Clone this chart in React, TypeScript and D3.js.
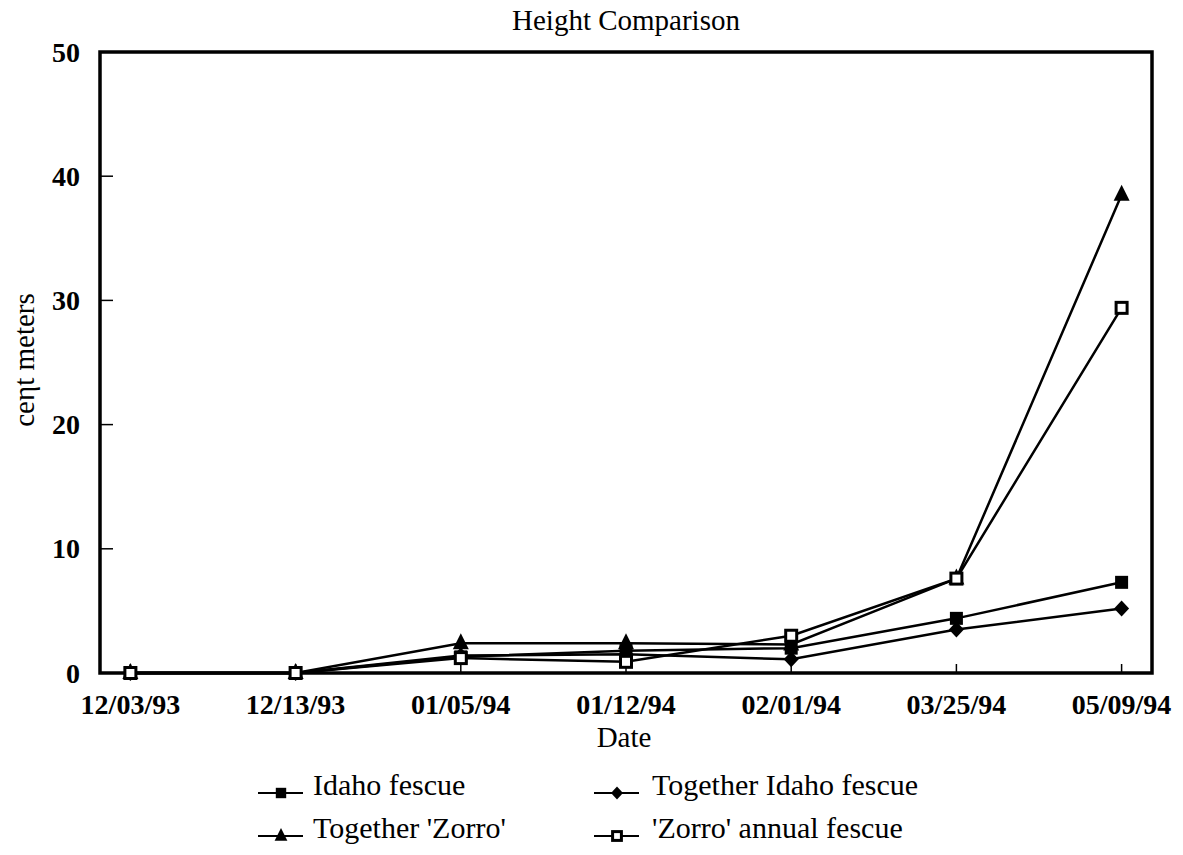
import React from "react";
import * as d3 from "d3";

const dates = ["12/03/93", "12/13/93", "01/05/94", "01/12/94", "02/01/94", "03/25/94", "05/09/94"];
const idahoFescue = [0, 0, 1.3, 1.8, 2.0, 4.4, 7.3];
const togetherIdaho = [0, 0, 1.4, 1.5, 1.1, 3.5, 5.2];
const togetherZorro = [0, 0, 2.4, 2.4, 2.3, 7.6, 38.5];
const zorroAnnual = [0, 0, 1.2, 0.9, 3.0, 7.6, 29.4];
const yTicks = [0, 10, 20, 30, 40, 50];

const seriesNames = ["Idaho fescue", "Together Idaho fescue", "Together 'Zorro'", "'Zorro' annual fescue"];
const seriesValues = [idahoFescue, togetherIdaho, togetherZorro, zorroAnnual];
const seriesMarkers = ["square", "diamond", "triangle", "openSquare"];

const W = 1183, H = 855;
const L = 100, R = 1152, T = 52, B = 673;
const FONT = "'Liberation Serif', 'Times New Roman', serif";

function Marker({ kind, x, y, s = 1 }: { kind: string; x: number; y: number; s?: number }) {
  if (kind === "square") return <rect x={x - 6.5 * s} y={y - 6.5 * s} width={13 * s} height={13 * s} fill="black" />;
  if (kind === "openSquare")
    return <rect x={x - 5.5 * s} y={y - 5.5 * s} width={11 * s} height={11 * s} fill="white" stroke="black" strokeWidth={3} />;
  if (kind === "diamond")
    return <path d={`M${x},${y - 8 * s}L${x + 7.5 * s},${y}L${x},${y + 8 * s}L${x - 7.5 * s},${y}Z`} fill="black" />;
  return <path d={`M${x},${y - 10 * s}L${x + 8 * s},${y + 6 * s}L${x - 8 * s},${y + 6 * s}Z`} fill="black" />;
}

export default function App() {
  const x = d3.scalePoint<string>().domain(dates).range([L, R]).padding(0.184);
  const y = d3.scaleLinear().domain([0, 50]).range([B, T]);
  const line = d3
    .line<number>()
    .x((_, i) => x(dates[i]) as number)
    .y((d) => y(d));

  const legendPos = [
    { lx: 281, ly: 793, tx: 313 },
    { lx: 617, ly: 793, tx: 652 },
    { lx: 281, ly: 836, tx: 313 },
    { lx: 617, ly: 836, tx: 652 },
  ];

  return (
    <svg width={W} height={H} style={{ position: "absolute", left: 0, top: 0, background: "white" }} fontFamily={FONT}>
      <rect x={0} y={0} width={W} height={H} fill="white" />
      <text x={626} y={30} textAnchor="middle" fontSize={29}>Height Comparison</text>
      {yTicks.map((t) => (
        <g key={t}>
          {t > 0 && t < 50 && <line x1={L} x2={L + 13} y1={y(t)} y2={y(t)} stroke="black" strokeWidth={1.5} />}
          <text x={80} y={y(t) + 9.5} textAnchor="end" fontSize={28} fontWeight="bold">{t}</text>
        </g>
      ))}
      {dates.map((d) => (
        <g key={d}>
          <line x1={x(d)} x2={x(d)} y1={B} y2={B - 9} stroke="black" strokeWidth={1.5} />
          <text x={x(d) as number} y={714} textAnchor="middle" fontSize={28} fontWeight="bold">{d}</text>
        </g>
      ))}
      <rect x={L} y={T} width={R - L} height={B - T} fill="none" stroke="black" strokeWidth={3.5} />
      <text x={624} y={747} textAnchor="middle" fontSize={29}>Date</text>
      <text transform={`translate(34,360) rotate(-90)`} textAnchor="middle" fontSize={29}>ceηt meters</text>
      {seriesValues.map((vals, si) => (
        <g key={si}>
          <path d={line(vals) || ""} fill="none" stroke="black" strokeWidth={2.5} />
          {vals.map((v, i) => (
            <Marker key={i} kind={seriesMarkers[si]} x={x(dates[i]) as number} y={y(v)} />
          ))}
        </g>
      ))}
      {seriesNames.map((n, i) => {
        const p = legendPos[i];
        return (
          <g key={n}>
            <line x1={p.lx - 23} x2={p.lx + 22} y1={p.ly} y2={p.ly} stroke="black" strokeWidth={2} />
            <Marker kind={seriesMarkers[i]} x={p.lx} y={p.ly} s={0.8} />
            <text x={p.tx} y={p.ly + 2} fontSize={30}>{n}</text>
          </g>
        );
      })}
    </svg>
  );
}
